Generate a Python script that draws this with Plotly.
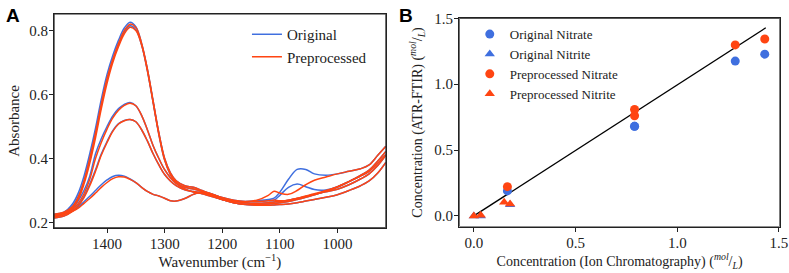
import plotly.graph_objects as go

# ---- Panel A: spectra ----
wavenumber = [1492, 1475, 1460, 1450, 1440, 1430, 1420, 1410, 1400, 1390, 1380, 1370,
              1360, 1350, 1340, 1330, 1320, 1310, 1300, 1290, 1280, 1265, 1250, 1235,
              1220, 1200, 1180, 1160, 1140, 1120, 1110, 1100, 1085, 1070, 1055, 1040,
              1020, 1000, 980, 960, 945, 930, 916]

orig_1 = [0.226, 0.232, 0.258, 0.292, 0.345, 0.415, 0.495, 0.585, 0.663, 0.722, 0.770, 0.808,
          0.826, 0.812, 0.760, 0.680, 0.580, 0.480, 0.400, 0.355, 0.330, 0.315, 0.310, 0.300,
          0.290, 0.277, 0.268, 0.262, 0.260, 0.262, 0.264, 0.266, 0.270, 0.275, 0.281, 0.288,
          0.296, 0.304, 0.318, 0.336, 0.352, 0.378, 0.410]
orig_2 = [0.222, 0.228, 0.250, 0.280, 0.330, 0.397, 0.478, 0.567, 0.645, 0.708, 0.756, 0.795,
          0.815, 0.803, 0.755, 0.675, 0.575, 0.475, 0.395, 0.350, 0.325, 0.310, 0.305, 0.298,
          0.287, 0.272, 0.262, 0.257, 0.256, 0.258, 0.260, 0.262, 0.266, 0.272, 0.279, 0.287,
          0.298, 0.311, 0.328, 0.347, 0.364, 0.392, 0.422]
orig_3 = [0.218, 0.224, 0.242, 0.268, 0.300, 0.345, 0.415, 0.462, 0.500, 0.533, 0.556, 0.569,
          0.575, 0.565, 0.535, 0.490, 0.440, 0.400, 0.365, 0.340, 0.322, 0.305, 0.295, 0.290,
          0.282, 0.272, 0.266, 0.265, 0.268, 0.272, 0.276, 0.295, 0.335, 0.366, 0.366, 0.352,
          0.348, 0.352, 0.360, 0.368, 0.380, 0.410, 0.438]
orig_4 = [0.214, 0.220, 0.236, 0.254, 0.282, 0.320, 0.365, 0.414, 0.453, 0.487, 0.509, 0.519,
          0.522, 0.515, 0.490, 0.455, 0.415, 0.380, 0.350, 0.330, 0.315, 0.302, 0.297, 0.293,
          0.285, 0.272, 0.262, 0.256, 0.254, 0.254, 0.255, 0.256, 0.258, 0.262, 0.267, 0.272,
          0.279, 0.287, 0.300, 0.315, 0.330, 0.355, 0.388]
orig_5 = [0.222, 0.226, 0.236, 0.248, 0.265, 0.282, 0.300, 0.318, 0.333, 0.344, 0.348, 0.345,
          0.336, 0.325, 0.310, 0.297, 0.288, 0.283, 0.276, 0.268, 0.267, 0.275, 0.288, 0.295,
          0.290, 0.278, 0.270, 0.266, 0.266, 0.268, 0.270, 0.285, 0.310, 0.320, 0.312, 0.303,
          0.302, 0.312, 0.328, 0.345, 0.360, 0.385, 0.412]

prep_1 = [0.226, 0.232, 0.250, 0.280, 0.330, 0.400, 0.480, 0.570, 0.650, 0.710, 0.760, 0.800,
          0.820, 0.810, 0.760, 0.680, 0.580, 0.480, 0.400, 0.355, 0.330, 0.315, 0.310, 0.300,
          0.290, 0.277, 0.268, 0.262, 0.260, 0.262, 0.264, 0.266, 0.270, 0.275, 0.281, 0.288,
          0.296, 0.304, 0.318, 0.336, 0.352, 0.378, 0.410]
prep_2 = [0.222, 0.228, 0.245, 0.272, 0.320, 0.385, 0.465, 0.555, 0.635, 0.700, 0.750, 0.790,
          0.810, 0.800, 0.755, 0.675, 0.575, 0.475, 0.395, 0.350, 0.325, 0.310, 0.305, 0.298,
          0.287, 0.272, 0.262, 0.257, 0.256, 0.258, 0.260, 0.262, 0.266, 0.272, 0.279, 0.287,
          0.298, 0.311, 0.328, 0.347, 0.364, 0.392, 0.422]
prep_3 = [0.218, 0.224, 0.240, 0.260, 0.290, 0.335, 0.400, 0.450, 0.492, 0.527, 0.551, 0.566,
          0.573, 0.565, 0.535, 0.490, 0.440, 0.400, 0.365, 0.340, 0.322, 0.305, 0.295, 0.290,
          0.282, 0.272, 0.266, 0.265, 0.270, 0.285, 0.298, 0.292, 0.288, 0.300, 0.318, 0.332,
          0.342, 0.352, 0.360, 0.368, 0.380, 0.410, 0.438]
prep_4 = [0.214, 0.220, 0.235, 0.252, 0.278, 0.315, 0.360, 0.410, 0.450, 0.485, 0.508, 0.518,
          0.522, 0.515, 0.490, 0.455, 0.415, 0.380, 0.350, 0.330, 0.315, 0.302, 0.297, 0.293,
          0.285, 0.272, 0.262, 0.256, 0.254, 0.254, 0.255, 0.256, 0.258, 0.262, 0.267, 0.272,
          0.279, 0.287, 0.300, 0.315, 0.330, 0.355, 0.388]
prep_5 = [0.222, 0.226, 0.235, 0.245, 0.260, 0.275, 0.292, 0.310, 0.325, 0.337, 0.343, 0.342,
          0.335, 0.325, 0.310, 0.297, 0.288, 0.283, 0.276, 0.268, 0.267, 0.275, 0.288, 0.295,
          0.290, 0.278, 0.270, 0.266, 0.266, 0.268, 0.270, 0.268, 0.270, 0.276, 0.283, 0.290,
          0.300, 0.312, 0.328, 0.345, 0.360, 0.385, 0.412]

original_spectra = [orig_1, orig_2, orig_3, orig_4, orig_5]
preprocessed_spectra = [prep_1, prep_2, prep_3, prep_4, prep_5]

# ---- Panel B: concentration comparison ----
ic_nitrate = [0.165, 0.79, 0.79, 1.285, 1.43]
orig_nitrate = [0.19, 0.68, 0.68, 1.175, 1.228]
prep_nitrate = [0.222, 0.76, 0.808, 1.298, 1.343]

ic_nitrite_orig = [0.0, 0.034, 0.178]
orig_nitrite = [0.0, 0.0, 0.085]
ic_nitrite_prep = [0.0, 0.034, 0.149, 0.178]
prep_nitrite = [0.0, 0.005, 0.104, 0.09]

fit_x = [0.0, 1.435]
fit_y = [0.0, 1.428]

# axis ranges (also used for the panel frames)
xrange_a = [1492, 916]
yrange_a = [0.183, 0.852]
xrange_b = [-0.072, 1.505]
yrange_b = [-0.081, 1.5]

BLUE = "#3F6FDF"
RED = "#FF4512"
SERIF = "Liberation Serif"
INK = "#222222"

fig = go.Figure()

for i, ys in enumerate(original_spectra):
    fig.add_trace(go.Scatter(
        x=wavenumber, y=ys, mode="lines", name="Original",
        line=dict(color=BLUE, width=1.5, shape="spline", smoothing=1.0),
        legendgroup="orig", showlegend=(i == 0), legend="legend",
        xaxis="x", yaxis="y",
    ))
for i, ys in enumerate(preprocessed_spectra):
    fig.add_trace(go.Scatter(
        x=wavenumber, y=ys, mode="lines", name="Preprocessed",
        line=dict(color=RED, width=1.5, shape="spline", smoothing=1.0),
        legendgroup="prep", showlegend=(i == 0), legend="legend",
        xaxis="x", yaxis="y",
    ))

fig.add_trace(go.Scatter(
    x=fit_x, y=fit_y, mode="lines", line=dict(color="black", width=1.3),
    showlegend=False, xaxis="x2", yaxis="y2",
))
fig.add_trace(go.Scatter(
    x=ic_nitrate, y=orig_nitrate, mode="markers", name="Original Nitrate",
    marker=dict(color=BLUE, size=9, symbol="circle"), legend="legend2",
    xaxis="x2", yaxis="y2",
))
fig.add_trace(go.Scatter(
    x=ic_nitrite_orig, y=orig_nitrite, mode="markers", name="Original Nitrite",
    marker=dict(color=BLUE, size=9, symbol="triangle-up"), legend="legend2",
    xaxis="x2", yaxis="y2",
))
fig.add_trace(go.Scatter(
    x=ic_nitrate, y=prep_nitrate, mode="markers", name="Preprocessed Nitrate",
    marker=dict(color=RED, size=9, symbol="circle"), legend="legend2",
    xaxis="x2", yaxis="y2",
))
fig.add_trace(go.Scatter(
    x=ic_nitrite_prep, y=prep_nitrite, mode="markers", name="Preprocessed Nitrite",
    marker=dict(color=RED, size=9, symbol="triangle-up"), legend="legend2",
    xaxis="x2", yaxis="y2",
))

# panel frames drawn as traces along the axis range edges
for xr, yr, xa, ya in [(xrange_a, yrange_a, "x", "y"), (xrange_b, yrange_b, "x2", "y2")]:
    fig.add_trace(go.Scatter(
        x=[xr[0], xr[1], xr[1], xr[0], xr[0]],
        y=[yr[0], yr[0], yr[1], yr[1], yr[0]],
        mode="lines", line=dict(color=INK, width=1.2),
        showlegend=False, hoverinfo="skip", cliponaxis=False,
        xaxis=xa, yaxis=ya,
    ))

axis_style = dict(
    showline=True, linecolor=INK, linewidth=1.2, mirror=True,
    showgrid=False, zeroline=False, ticks="outside", ticklen=4, tickwidth=1.2,
    tickcolor=INK, ticklabelstandoff=-2,
    tickfont=dict(family=SERIF, size=15, color=INK),
)
title_font = dict(family=SERIF, size=15, color=INK)
title_font_b = dict(family=SERIF, size=14, color=INK)

fig.update_layout(
    width=789, height=273,
    margin=dict(l=0, r=0, t=0, b=0, autoexpand=False),
    paper_bgcolor="white", plot_bgcolor="white",
    font=dict(family=SERIF, color=INK),
    xaxis=dict(domain=[0.0685, 0.489], range=xrange_a,
               tickvals=[1400, 1300, 1200, 1100, 1000], anchor="y",
               title=dict(text="Wavenumber (cm<sup>\u22121</sup>)", font=title_font, standoff=0),
               **axis_style),
    yaxis=dict(domain=[0.165, 0.949], range=yrange_a,
               tickvals=[0.2, 0.4, 0.6, 0.8], tickformat=".1f", anchor="x",
               title=dict(text="Absorbance", font=title_font, standoff=5),
               **axis_style),
    xaxis2=dict(domain=[0.582, 0.9886], range=xrange_b,
                tickvals=[0.0, 0.5, 1.0, 1.5], tickformat=".1f", anchor="y2",
                title=dict(text="Concentration (Ion Chromatography) (<sup><i>mol</i></sup>/<sub><i>L</i></sub>)",
                           font=title_font_b, standoff=0),
                **axis_style),
    yaxis2=dict(domain=[0.170, 0.933], range=yrange_b,
                tickvals=[0.0, 0.5, 1.0, 1.5], tickformat=".1f", anchor="x2",
                title=dict(text="Concentration (ATR-FTIR) (<sup><i>mol</i></sup>/<sub><i>L</i></sub>)",
                           font=title_font_b, standoff=8),
                **axis_style),
    legend=dict(x=0.313, y=0.934, xanchor="left", yanchor="top",
                bgcolor="rgba(0,0,0,0)", font=dict(family=SERIF, size=15, color=INK),
                tracegroupgap=0),
    legend2=dict(x=0.5954, y=0.93, xanchor="left", yanchor="top",
                 bgcolor="rgba(0,0,0,0)", font=dict(family=SERIF, size=13, color=INK),
                 tracegroupgap=0),
    annotations=[
        dict(text="<b>A</b>", x=4 / 789, y=1 - 3 / 273, xref="paper", yref="paper",
             xanchor="left", yanchor="top", showarrow=False,
             font=dict(family="Liberation Sans", size=19, color="black")),
        dict(text="<b>B</b>", x=397 / 789, y=1 - 3 / 273, xref="paper", yref="paper",
             xanchor="left", yanchor="top", showarrow=False,
             font=dict(family="Liberation Sans", size=19, color="black")),
    ],
)

fig.write_html("out.html", config={"displayModeBar": False},
               post_script="document.body.style.margin='0';")
